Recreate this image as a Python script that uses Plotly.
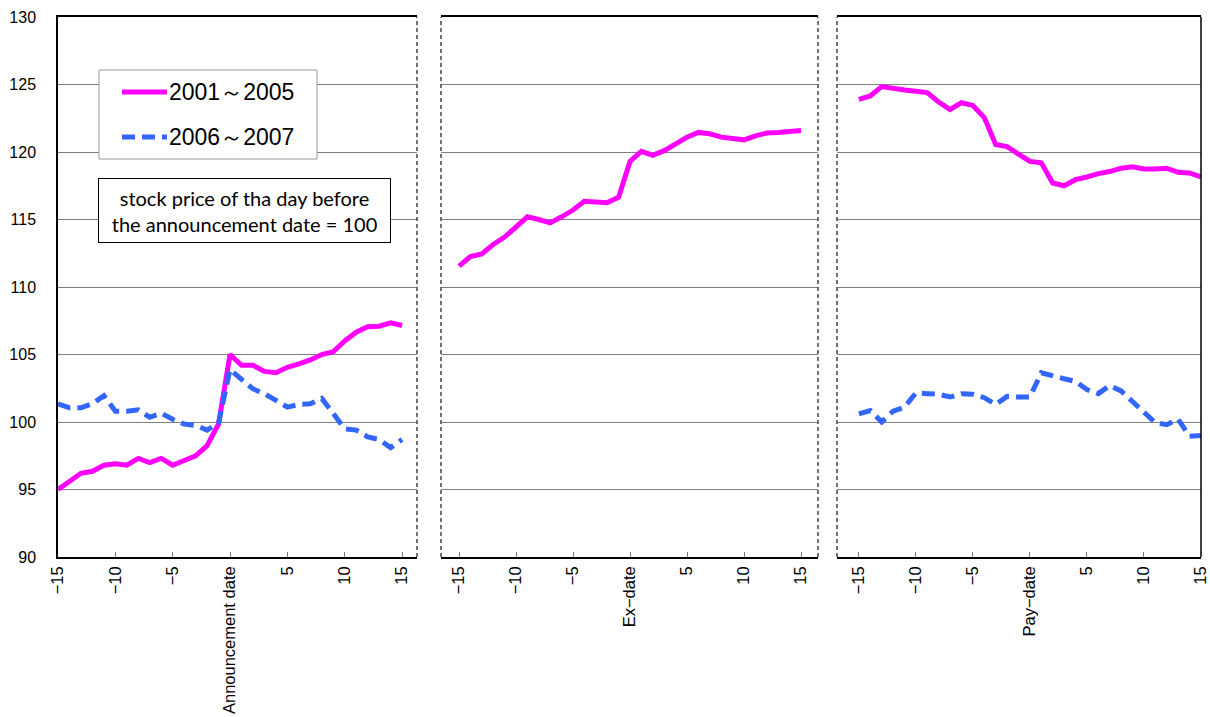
import plotly.graph_objects as go

days = list(range(-15, 16))

# Panel 1: around announcement date
ann_2001_2005 = [95.0, 95.6, 96.2, 96.35, 96.8, 96.9, 96.8, 97.3, 97.0, 97.3, 96.8, 97.15, 97.5, 98.25, 99.85,
                 105.0, 104.2, 104.2, 103.75, 103.65, 104.05, 104.3, 104.6, 105.0, 105.2, 106.0, 106.65, 107.05, 107.1, 107.35, 107.15]
ann_2006_2007 = [101.35, 101.05, 101.05, 101.35, 101.95, 100.8, 100.8, 100.9, 100.35, 100.65, 100.2, 99.85, 99.75, 99.4, 99.95,
                 103.9, 103.15, 102.45, 102.1, 101.55, 101.1, 101.3, 101.35, 101.75, 100.65, 99.5, 99.4, 98.9, 98.7, 98.1, 98.7]
# Panel 2: around ex-date
ex_2001_2005 = [111.55, 112.25, 112.45, 113.15, 113.7, 114.45, 115.2, 115.0, 114.75, 115.2, 115.7, 116.35, 116.3, 116.25, 116.65,
                119.3, 120.05, 119.75, 120.1, 120.65, 121.1, 121.45, 121.35, 121.1, 121.0, 120.9, 121.2, 121.4, 121.45, 121.5, 121.6]
# Panel 3: around pay-date
pay_2001_2005 = [123.9, 124.15, 124.85, 124.7, 124.6, 124.5, 124.4, 123.7, 123.15, 123.65, 123.45, 122.55, 120.55, 120.4, 119.8,
                 119.3, 119.2, 117.7, 117.5, 117.95, 118.15, 118.4, 118.55, 118.8, 118.9, 118.75, 118.75, 118.8, 118.5, 118.45, 118.15]
pay_2006_2007 = [100.6, 100.85, 100.0, 100.8, 101.1, 102.15, 102.1, 102.05, 101.85, 102.1, 102.05, 101.8, 101.3, 101.9, 101.85,
                 101.85, 103.65, 103.4, 103.2, 103.0, 102.4, 102.1, 102.7, 102.3, 101.55, 100.75, 99.95, 99.8, 100.2, 98.95, 99.0]

series_names = ["2001～2005", "2006～2007"]
tick_vals = [-15, -10, -5, 0, 5, 10, 15]
ticks_ann = ["−15", "−10", "−5", "Announcement date", "5", "10", "15"]
ticks_ex = ["−15", "−10", "−5", "Ex−date", "5", "10", "15"]
ticks_pay = ["−15", "−10", "−5", "Pay−date", "5", "10", "15"]
y_ticks = [90, 95, 100, 105, 110, 115, 120, 125, 130]

PINK = "#FF00FF"
BLUE = "#3366FF"

W, H = 1210, 717
ML, MR, MT, MB = 58, 9, 17, 160
PW = W - ML - MR
PH = H - MT - MB


def px(x):
    return (x - ML) / PW


def py(y):
    return (H - MB - y) / PH


fig = go.Figure()

pink_line = dict(color=PINK, width=5)
blue_line = dict(color=BLUE, width=5, dash="13px,7px")

fig.add_trace(go.Scatter(x=days, y=ann_2001_2005, mode="lines", name=series_names[0], line=pink_line,
                         xaxis="x", yaxis="y", showlegend=False))
fig.add_trace(go.Scatter(x=days, y=ann_2006_2007, mode="lines", name=series_names[1], line=blue_line,
                         xaxis="x", yaxis="y", showlegend=False))
fig.add_trace(go.Scatter(x=days, y=ex_2001_2005, mode="lines", name=series_names[0], line=pink_line,
                         xaxis="x2", yaxis="y2", showlegend=False))
fig.add_trace(go.Scatter(x=days, y=pay_2001_2005, mode="lines", name=series_names[0], line=pink_line,
                         xaxis="x3", yaxis="y3", showlegend=False))
fig.add_trace(go.Scatter(x=days, y=pay_2006_2007, mode="lines", name=series_names[1], line=blue_line,
                         xaxis="x3", yaxis="y3", showlegend=False))

xfont = dict(family="Liberation Sans", size=16.5, color="black")
common_x = dict(tickmode="array", tickvals=tick_vals, tickangle=-90, ticks="inside", ticklen=5,
                tickcolor="#777777", showgrid=False, zeroline=False, showline=True, linecolor="black",
                linewidth=1.5, mirror=True, tickfont=xfont, ticklabelstandoff=1, automargin=False)
common_y = dict(range=[90, 130], tickmode="array", tickvals=y_ticks, showgrid=True, gridcolor="#808080",
                gridwidth=1, zeroline=False, automargin=False)

fig.update_layout(
    width=W, height=H,
    margin=dict(l=ML, r=MR, t=MT, b=MB, autoexpand=False),
    paper_bgcolor="white", plot_bgcolor="white",
    showlegend=False,
    xaxis=dict(common_x, domain=[px(58), px(417)], range=[-15, 16.3], ticktext=ticks_ann, anchor="y"),
    xaxis2=dict(common_x, domain=[px(441), px(818)], range=[-16.58, 16.49], ticktext=ticks_ex, anchor="y2"),
    xaxis3=dict(common_x, domain=[px(837), px(1201)], range=[-16.92, 15.01], ticktext=ticks_pay, anchor="y3"),
    yaxis=dict(common_y, anchor="x", showline=True, linecolor="black", linewidth=1.5,
               ticks="outside", ticklen=17, tickcolor="rgba(0,0,0,0)",
               tickfont=dict(family="Liberation Sans", size=16, color="black")),
    yaxis2=dict(common_y, anchor="x2", showticklabels=False, showline=False, ticks=""),
    yaxis3=dict(common_y, anchor="x3", showticklabels=False, showline=False, ticks=""),
)

dash_border = dict(color="#444444", width=1.5, dash="4px,3px")
shapes = [
    dict(type="line", xref="x domain", yref="y domain", x0=1, x1=1, y0=0, y1=1, line=dash_border),
    dict(type="line", xref="x2 domain", yref="y2 domain", x0=0, x1=0, y0=0, y1=1, line=dash_border),
    dict(type="line", xref="x2 domain", yref="y2 domain", x0=1, x1=1, y0=0, y1=1, line=dash_border),
    dict(type="line", xref="x3 domain", yref="y3 domain", x0=0, x1=0, y0=0, y1=1, line=dash_border),
    dict(type="line", xref="x3 domain", yref="y3 domain", x0=1, x1=1, y0=0, y1=1,
         line=dict(color="black", width=1.5)),
    # legend box
    dict(type="rect", xref="paper", yref="paper", x0=px(99), x1=px(317), y0=py(159), y1=py(70),
         line=dict(color="#999999", width=1), fillcolor="white", layer="above"),
    dict(type="line", xref="paper", yref="paper", x0=px(122), x1=px(167), y0=py(92), y1=py(92),
         line=dict(color=PINK, width=5), layer="above"),
    dict(type="line", xref="paper", yref="paper", x0=px(122), x1=px(167), y0=py(137), y1=py(137),
         line=dict(color=BLUE, width=5, dash="13px,7px"), layer="above"),
]
fig.update_layout(shapes=shapes)

annotations = [
    dict(text=series_names[0], xref="paper", yref="paper", x=px(167), y=py(92), xanchor="left",
         yanchor="middle", showarrow=False, font=dict(family="Liberation Sans", size=23, color="black")),
    dict(text=series_names[1], xref="paper", yref="paper", x=px(167), y=py(137), xanchor="left",
         yanchor="middle", showarrow=False, font=dict(family="Liberation Sans", size=23, color="black")),
    dict(text="stock price of tha day before<br>the announcement date = 100", xref="paper", yref="paper",
         x=px(244.5), y=py(210.5), xanchor="center", yanchor="middle", showarrow=False,
         font=dict(family="Lato", size=20, color="black"), bordercolor="black", borderwidth=1,
         borderpad=0, bgcolor="white", width=291, height=63, align="center"),
]
fig.update_layout(annotations=annotations)

fig.write_html("out.html", config={"displayModeBar": False},
               post_script="document.body.style.margin='0px';document.body.style.overflow='hidden';")
